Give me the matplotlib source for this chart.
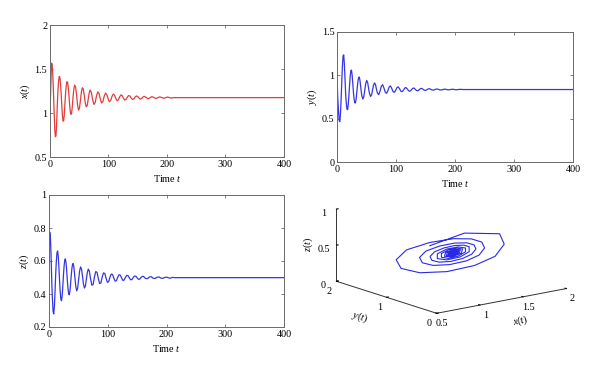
import matplotlib
matplotlib.use('Agg')
import matplotlib.pyplot as plt

# ---------------- data ----------------
t = [0, 1.2,
     2.54, 3.64, 4.74, 5.84, 6.94, 8.04, 9.14, 10.24, 11.34, 12.44, 13.54, 14.64,
     15.74, 16.84, 17.94, 19.04, 20.14, 21.24, 22.34, 23.44, 24.54, 25.64, 26.74, 27.84,
     28.94, 30.04, 31.14, 32.24, 33.34, 34.44, 35.54, 36.64, 37.74, 38.84, 39.94, 41.04,
     42.14, 43.79, 45.44, 47.09, 48.74, 50.39, 52.04, 53.69,
     55.34, 56.99, 58.64, 60.29, 61.94, 63.59, 65.24, 66.89,
     68.54, 70.74, 72.94, 75.14, 77.34, 79.54,
     81.74, 83.94, 86.14, 88.34, 90.54, 92.74,
     94.94, 97.14, 99.34, 101.54, 103.74, 105.94,
     108.14, 110.34, 112.54, 114.74, 116.94, 119.14,
     121.34, 123.54, 125.74, 127.94, 130.14, 132.34,
     134.54, 136.74, 138.94, 141.14, 143.34, 145.54,
     147.74, 149.94, 152.14, 154.34, 156.54, 158.74,
     160.94, 164.24, 167.54, 170.84,
     174.14, 177.44, 180.74, 184.04,
     187.34, 190.64, 193.94, 197.24,
     200.54, 203.84, 207.14, 210.44,
     213.74, 400]

x_t = [1.0, 1.25,
       1.566, 1.558, 1.446, 1.262, 1.038, 0.840, 0.731, 0.741, 0.867, 1.077, 1.249, 1.356,
       1.414, 1.409, 1.341, 1.228, 1.092, 0.972, 0.907, 0.913, 0.989, 1.116, 1.231, 1.311,
       1.356, 1.351, 1.300, 1.215, 1.116, 1.031, 0.985, 0.989, 1.043, 1.133, 1.219, 1.282,
       1.317, 1.297, 1.206, 1.097, 1.033, 1.053, 1.144, 1.237,
       1.287, 1.272, 1.200, 1.117, 1.070, 1.084, 1.152, 1.222,
       1.261, 1.234, 1.151, 1.097, 1.121, 1.195,
       1.241, 1.221, 1.156, 1.114, 1.133, 1.191,
       1.227, 1.211, 1.161, 1.128, 1.143, 1.187,
       1.215, 1.203, 1.164, 1.139, 1.150, 1.185,
       1.206, 1.197, 1.166, 1.147, 1.155, 1.183,
       1.199, 1.192, 1.168, 1.154, 1.160, 1.181,
       1.194, 1.188, 1.170, 1.158, 1.164, 1.180,
       1.190, 1.178, 1.162, 1.172,
       1.186, 1.177, 1.165, 1.173,
       1.183, 1.177, 1.168, 1.173,
       1.181, 1.176, 1.170, 1.174,
       1.175, 1.175]

y_t = [1.0, 0.74,
       0.582, 0.477, 0.465, 0.559, 0.723, 0.923, 1.108, 1.225, 1.236, 1.132, 0.957, 0.785,
       0.676, 0.611, 0.603, 0.662, 0.765, 0.885, 0.988, 1.055, 1.060, 1.002, 0.904, 0.802,
       0.729, 0.685, 0.680, 0.720, 0.788, 0.867, 0.934, 0.976, 0.980, 0.943, 0.880, 0.812,
       0.762, 0.726, 0.755, 0.831, 0.907, 0.941, 0.913, 0.841,
       0.782, 0.756, 0.777, 0.832, 0.888, 0.913, 0.893, 0.839,
       0.795, 0.777, 0.818, 0.875, 0.892, 0.853,
       0.806, 0.792, 0.822, 0.865, 0.878, 0.849,
       0.813, 0.803, 0.826, 0.858, 0.867, 0.846,
       0.818, 0.811, 0.828, 0.852, 0.859, 0.843,
       0.822, 0.816, 0.830, 0.848, 0.854, 0.841,
       0.826, 0.821, 0.831, 0.845, 0.850, 0.840,
       0.829, 0.825, 0.833, 0.843, 0.846, 0.839,
       0.831, 0.830, 0.841, 0.841,
       0.832, 0.832, 0.839, 0.840,
       0.833, 0.833, 0.839, 0.839,
       0.834, 0.834, 0.838, 0.838,
       0.836, 0.836]

z_t = [0.60, 0.775,
       0.729, 0.610, 0.470, 0.364, 0.294, 0.279, 0.323, 0.414, 0.520, 0.598, 0.650, 0.661,
       0.628, 0.561, 0.481, 0.413, 0.369, 0.359, 0.387, 0.445, 0.514, 0.569, 0.605, 0.613,
       0.590, 0.543, 0.485, 0.435, 0.402, 0.395, 0.416, 0.459, 0.510, 0.552, 0.579, 0.585,
       0.568, 0.510, 0.450, 0.419, 0.435, 0.488, 0.539, 0.564,
       0.551, 0.508, 0.460, 0.436, 0.448, 0.491, 0.531, 0.551,
       0.540, 0.492, 0.453, 0.459, 0.504, 0.536,
       0.531, 0.494, 0.463, 0.468, 0.503, 0.528,
       0.524, 0.495, 0.471, 0.475, 0.502, 0.521,
       0.518, 0.496, 0.478, 0.481, 0.501, 0.517,
       0.514, 0.497, 0.482, 0.485, 0.501, 0.513,
       0.511, 0.497, 0.486, 0.488, 0.500, 0.509,
       0.508, 0.498, 0.489, 0.490, 0.500, 0.507,
       0.506, 0.494, 0.493, 0.503,
       0.505, 0.495, 0.494, 0.502,
       0.503, 0.496, 0.495, 0.501,
       0.502, 0.497, 0.496, 0.501,
       0.499, 0.499]

time_ticks = [0, 100, 200, 300, 400]
time_labels = ['0', '100', '200', '300', '400']
x_ticks = [0.5, 1, 1.5, 2]
x_labels = ['0.5', '1', '1.5', '2']
y_ticks = [0, 0.5, 1, 1.5]
y_labels = ['0', '0.5', '1', '1.5']
z_ticks = [0.2, 0.4, 0.6, 0.8, 1]
z_labels = ['0.2', '0.4', '0.6', '0.8', '1']
p3_x_ticks = [0.5, 1, 1.5, 2]
p3_x_labels = ['0.5', '1', '1.5', '2']
p3_y_ticks = [0, 1, 2]
p3_y_labels = ['0', '1', '2']
p3_z_ticks = [0, 0.5, 1]
p3_z_labels = ['0', '0.5', '1']

# ---------------- style ----------------
plt.rcParams['font.family'] = ['Liberation Serif', 'DejaVu Serif']
plt.rcParams['font.size'] = 7.3
plt.rcParams['mathtext.fontset'] = 'custom'
plt.rcParams['mathtext.it'] = 'Liberation Serif:italic'
plt.rcParams['mathtext.rm'] = 'Liberation Serif'

RED = '#e23c3c'
BLUE = '#3636e0'
SPINE = '#6a6a6a'

fig = plt.figure(figsize=(6, 3.75), dpi=100)


def time_panel(rect, vals, color, ylim, yt, ylab, ylabel):
    ax = fig.add_axes(rect)
    ax.plot(t, vals, color=color, lw=0.9)
    ax.set_xlim(0, 400)
    ax.set_ylim(*ylim)
    ax.set_xticks(time_ticks)
    ax.set_xticklabels(time_labels)
    ax.set_yticks(yt)
    ax.set_yticklabels(ylab)
    ax.tick_params(direction='in', top=True, right=True, length=2.5,
                   width=0.6, color=SPINE, pad=2)
    for s in ax.spines.values():
        s.set_color(SPINE)
        s.set_linewidth(0.7)
    ax.set_xlabel('Time $t$', labelpad=3)
    ax.set_ylabel(ylabel, labelpad=2)
    return ax


time_panel([0.0833, 0.5813, 0.39, 0.352], x_t, RED, (0.5, 2),
           x_ticks, x_labels, '$x(t)$')
time_panel([0.5617, 0.568, 0.3933, 0.3467], y_t, BLUE, (0, 1.5),
           y_ticks, y_labels, '$y(t)$')
time_panel([0.0817, 0.128, 0.3917, 0.352], z_t, BLUE, (0.2, 1),
           z_ticks, z_labels, '$z(t)$')

# ---------------- 3D phase portrait ----------------
ax4 = fig.add_axes([0.432, 0.013, 0.63, 0.63], projection='3d')
ax4.set_proj_type('ortho')
ax4.view_init(elev=14.3, azim=-127.7)
ax4.set_box_aspect((1, 1, 0.455))
ax4.plot(x_t, y_t, z_t, color='#2a2ae6', lw=0.8)
ax4.set_xlim(0.5, 2)
ax4.set_ylim(0, 2)
ax4.set_zlim(0, 1)
ax4.set_xticks(p3_x_ticks)
ax4.set_xticklabels(p3_x_labels)
ax4.set_yticks(p3_y_ticks)
ax4.set_yticklabels(p3_y_labels)
ax4.set_zticks(p3_z_ticks)
ax4.set_zticklabels(p3_z_labels)
ax4.grid(False)
ax4.patch.set_alpha(0)
for a in (ax4.xaxis, ax4.yaxis, ax4.zaxis):
    a.set_pane_color((1, 1, 1, 0))
    a.pane.set_edgecolor((1, 1, 1, 0))
    a.line.set_color('#333333')
    a.line.set_linewidth(0.7)
    a._axinfo['tick']['inward_factor'] = 0.0
    a._axinfo['tick']['outward_factor'] = 0.15
    a._axinfo['tick']['color'] = '#333333'
ax4.set_xlabel('$x$(t)', labelpad=-4)
ax4.set_ylabel('$y(t)$', labelpad=-3)
ax4.set_zlabel('$z(t)$', labelpad=-10)
ax4.tick_params(pad=-3)

fig.savefig('out.png', dpi=100)
